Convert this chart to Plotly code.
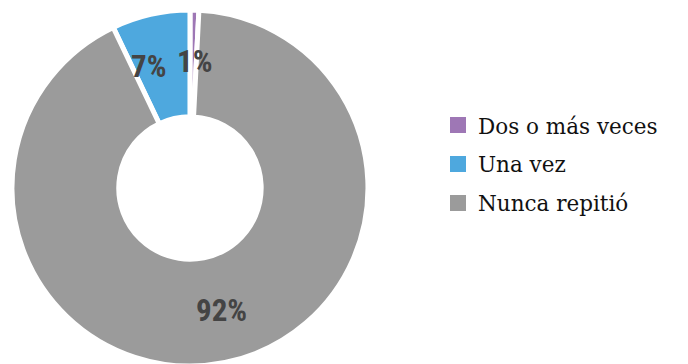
import math
import plotly.graph_objects as go

categories = ["Dos o más veces", "Una vez", "Nunca repitió"]
values = [0.8, 7.1, 92.1]
colors = ["#9e77b5", "#4ea8de", "#9b9b9b"]

W, H = 688, 364
M_T, M_B = 2, 6
DOM_X = [0.0, 0.529]
HOLE = 0.4
LABEL_SIZE = 31

fig = go.Figure()
fig.add_trace(go.Pie(
    labels=categories,
    values=values,
    hole=HOLE,
    sort=False,
    direction="counterclockwise",
    rotation=0,
    marker=dict(colors=colors, line=dict(color="white", width=5)),
    textinfo="none",
    hoverinfo="skip",
    showlegend=False,
    domain=dict(x=DOM_X, y=[0, 1]),
))

# legend entries (square swatches)
for i, (cat, col) in enumerate(zip(categories, colors)):
    fig.add_trace(go.Scatter(
        x=[None], y=[None], mode="markers", name=cat,
        marker=dict(symbol="square", size=16, color=col),
        legendgroup=f"g{i}", showlegend=True, hoverinfo="skip",
    ))

# percentage labels at mid-angle / mid-radius of each slice,
# with simple horizontal collision avoidance
plot_h = H - M_T - M_B
R = plot_h / 2.0
r_mid = R * (1 + HOLE) / 2.0 + 2
cx_px = (DOM_X[0] + DOM_X[1]) / 2.0 * W
cy_px = M_T + R
total = sum(values)
labels = []
cum = 0.0
for v in values:
    theta = 2 * math.pi * (cum + v / 2.0) / total
    cum += v
    txt = f"{round(100 * v / total)}%"
    x = cx_px - r_mid * math.sin(theta)
    y = cy_px - r_mid * math.cos(theta)
    w = len(txt) * 0.52 * LABEL_SIZE
    labels.append([x, y, w, txt])

gap = 14
for a in range(len(labels)):
    for b in range(a + 1, len(labels)):
        la, lb = labels[a], labels[b]
        if abs(la[1] - lb[1]) < LABEL_SIZE:
            need = (la[2] + lb[2]) / 2 + gap
            dist = abs(la[0] - lb[0])
            if dist < need:
                push = (need - dist) / 2
                if la[0] <= lb[0]:
                    la[0] -= push
                    lb[0] += push
                else:
                    la[0] += push
                    lb[0] -= push

for x, y, w, txt in labels:
    fig.add_annotation(
        x=x / W, y=(H - M_B - y) / plot_h, xref="paper", yref="paper", showarrow=False,
        text=txt,
        font=dict(family="Liberation Sans Narrow, Roboto Condensed, Roboto, sans-serif",
                  size=LABEL_SIZE, color="#444444", weight="bold"),
        xanchor="center", yanchor="middle",
    )

fig.update_layout(
    width=W, height=H,
    margin=dict(l=0, r=0, t=M_T, b=M_B),
    paper_bgcolor="white",
    plot_bgcolor="white",
    xaxis=dict(visible=False),
    yaxis=dict(visible=False),
    showlegend=True,
    legend=dict(
        x=0.625, y=0.567, xanchor="left", yanchor="middle",
        font=dict(family="DejaVu Serif, Liberation Serif, serif", size=21.5, color="#111111"),
        traceorder="grouped", tracegroupgap=8, itemsizing="trace",
    ),
)

fig.write_html("out.html")
